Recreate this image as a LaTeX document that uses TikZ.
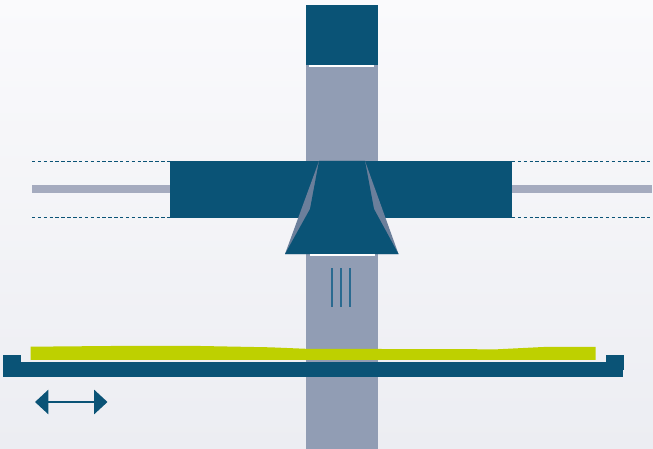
\documentclass[tikz,border=0pt]{standalone}
\usepackage{xcolor}
\usetikzlibrary{positioning, arrows.meta, calc}
\definecolor{bgtop}{RGB}{250,250,252}
\definecolor{bgbottom}{RGB}{236,237,242}
\definecolor{primary}{RGB}{10,83,118}
\definecolor{column}{RGB}{145,157,180}
\definecolor{rail}{RGB}{165,171,191}
\definecolor{flank}{RGB}{107,127,155}
\definecolor{film}{RGB}{190,208,0}
\definecolor{beam}{RGB}{42,106,144}
\tikzset{
  block/.style={fill=primary, inner sep=0pt, outer sep=0pt, anchor=north west},
  columnbox/.style={block, fill=column},
  railbox/.style={fill=rail, inner sep=0pt, outer sep=0pt, minimum height=6pt},
  slit/.style={fill=white, inner sep=0pt, outer sep=0pt, minimum height=1.2pt, anchor=north west},
  guide/.style={draw=primary, dash pattern=on 2.6pt off 1.8pt, line width=0.6pt},
  beamline/.style={draw=beam, line width=0.8pt},
  travel/.style={draw=primary, line width=1.9pt, {Triangle[length=10pt,width=18pt]}-{Triangle[length=10pt,width=18pt]}},
}

\begin{document}
\begin{tikzpicture}[x=0.75pt, y=-0.75pt]
  \path[use as bounding box, top color=bgtop, bottom color=bgbottom] (0,0) rectangle (653,449);

  % column and source
  \node[columnbox, minimum width=54pt, minimum height=288pt] (column) at (306,65) {};
  \node[block, minimum width=54pt, minimum height=45pt] (source) at (306,5) {};
  \node[slit, minimum width=48.75pt] (slit top) at (309,65) {};

  % head with rails
  \node[block, minimum width=256.5pt, minimum height=42.75pt] (head) at (170,161) {};
  \node[railbox, minimum width=103.5pt, left=0pt of head] (rail left) {};
  \node[railbox, minimum width=105pt, right=0pt of head] (rail right) {};
  \coordinate (guide a) at (32,161.5);
  \coordinate (guide b) at (32,217.5);
  \coordinate (guide c) at (652,161.5);
  \coordinate (guide d) at (652,217.5);
  \draw[guide] (guide a) -- (guide a -| head.west);
  \draw[guide] (guide b) -- (guide b -| head.west);
  \draw[guide] (guide c -| head.east) -- (guide c);
  \draw[guide] (guide d -| head.east) -- (guide d);

  % nozzle
  \fill[flank] (319,161) -- (365,161) -- (398.5,254) -- (285,254) -- cycle;
  \fill[primary] (319,161) -- (365,161) -- (374,209) -- (398.5,254) -- (285,254) -- (310,209) -- cycle;
  \node[slit, minimum width=48.75pt] (slit low) at (310,254) {};
  \foreach \x in {332,341,350}
    \draw[beamline] (\x,268) -- (\x,307);

  % film and stage
  \fill[film] (30.5,346.7) -- (110,346) -- (190,345.8) -- (270,347.3) -- (306,348.8) -- (497,349.3)
    -- (543,347) -- (595.5,346.8) -- (595.5,359.8) -- (30.5,359.8) -- cycle;
  \node[block, minimum width=465pt, minimum height=11.25pt] (stage) at (3,362) {};
  \node[block, minimum width=13.5pt, minimum height=5.25pt] (stop left) at (3,355) {};
  \node[block, minimum width=13.5pt, minimum height=11.25pt] (stop right) at (606,355) {};

  % travel direction
  \coordinate (travel a) at (35,402);
  \coordinate (travel b) at (107.5,402);
  \draw[travel] (travel a) -- (travel b);
\end{tikzpicture}
\end{document}
